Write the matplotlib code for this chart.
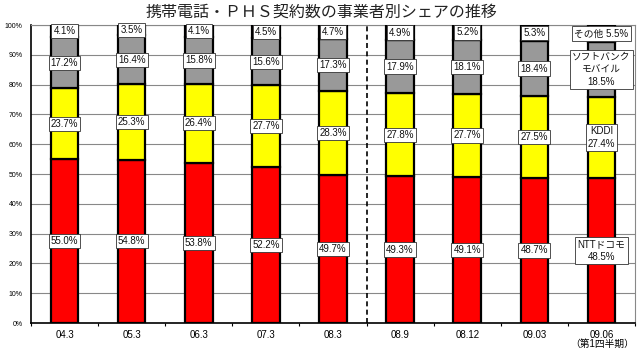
import matplotlib
matplotlib.use("Agg")
import matplotlib.pyplot as plt
import numpy as np

periods = ["04.3", "05.3", "06.3", "07.3", "08.3", "08.9", "08.12", "09.03", "09.06"]
docomo = [55.0, 54.8, 53.8, 52.2, 49.7, 49.3, 49.1, 48.7, 48.5]
kddi = [23.7, 25.3, 26.4, 27.7, 28.3, 27.8, 27.7, 27.5, 27.4]
softbank = [17.2, 16.4, 15.8, 15.6, 17.3, 17.9, 18.1, 18.4, 18.5]
others = [4.1, 3.5, 4.1, 4.5, 4.7, 4.9, 5.2, 5.3, 5.5]
last_names = ["NTTドコモ", "KDDI", "ソフトバンク\nモバイル", "その他"]

fam = ["Liberation Sans", "Noto Sans CJK JP", "DejaVu Sans"]
plt.rcParams["font.family"] = fam

fig = plt.figure(figsize=(6.4, 3.53), dpi=100)
ax = fig.add_axes([31 / 640, 1 - 323 / 353, 604 / 640, 298 / 353])

x = np.arange(len(periods))
series = [docomo, kddi, softbank, others]
colors = ["#FF0000", "#FFFF00", "#999999", "#E8C8D0"]
bottom = np.zeros(len(periods))
for vals, col in zip(series, colors):
    vals = np.array(vals)
    ax.bar(x, vals, bottom=bottom, width=0.41, color=col, edgecolor="black",
           linewidth=1.6, zorder=3)
    bottom = bottom + vals

box = dict(boxstyle="square,pad=0.22", facecolor="white", edgecolor="#333333", linewidth=0.6)
bottom = np.zeros(len(periods))
for k, vals in enumerate(series):
    for i, v in enumerate(vals):
        yc = bottom[i] + v / 2
        if i == len(periods) - 1:
            if k == 3:
                txt = f"{last_names[k]} {v:.1f}%"
            else:
                txt = f"{last_names[k]}\n{v:.1f}%"
            ax.text(i, yc, txt, ha="center", va="center", fontsize=7, zorder=5,
                    bbox=box, linespacing=1.3, color="#111111")
        else:
            ax.text(i, yc, f"{v:.1f}%", ha="center", va="center", fontsize=7,
                    zorder=5, bbox=box, color="#111111")
    bottom = bottom + np.array(vals)

ax.set_xlim(-0.5, len(periods) - 0.5)
ax.set_ylim(0, 100)
ax.set_yticks(np.arange(0, 101, 10))
ax.set_yticklabels([f"{t}%" for t in range(0, 101, 10)], fontsize=5)
ax.yaxis.grid(True, color="#888888", linewidth=0.8, zorder=0)
ax.set_xticks(x)
ax.set_xticklabels(periods, fontsize=7)
ax.set_xticks(np.arange(-0.5, len(periods), 1), minor=True)
ax.tick_params(axis="x", which="major", length=0, pad=5)
ax.tick_params(axis="x", which="minor", length=2, width=0.8)
ax.tick_params(axis="y", length=0, pad=6)
for s in ["left", "bottom"]:
    ax.spines[s].set_color("black")
    ax.spines[s].set_linewidth(1.2)
for s in ["top", "right"]:
    ax.spines[s].set_color("#888888")
    ax.spines[s].set_linewidth(0.8)

ax.axvline(4.5, color="black", linestyle=(0, (3, 2)), linewidth=1.2, zorder=4)

fig.text(602 / 640, 1 - 344 / 353, "（第1四半期）", ha="center", va="center",
         fontsize=7)

fig.text(321 / 640, 1 - 12 / 353, "携帯電話・ＰＨＳ契約数の事業者別シェアの推移",
         ha="center", va="center", fontsize=11.5, color="#222222")

fig.savefig("out.png", dpi=100)
